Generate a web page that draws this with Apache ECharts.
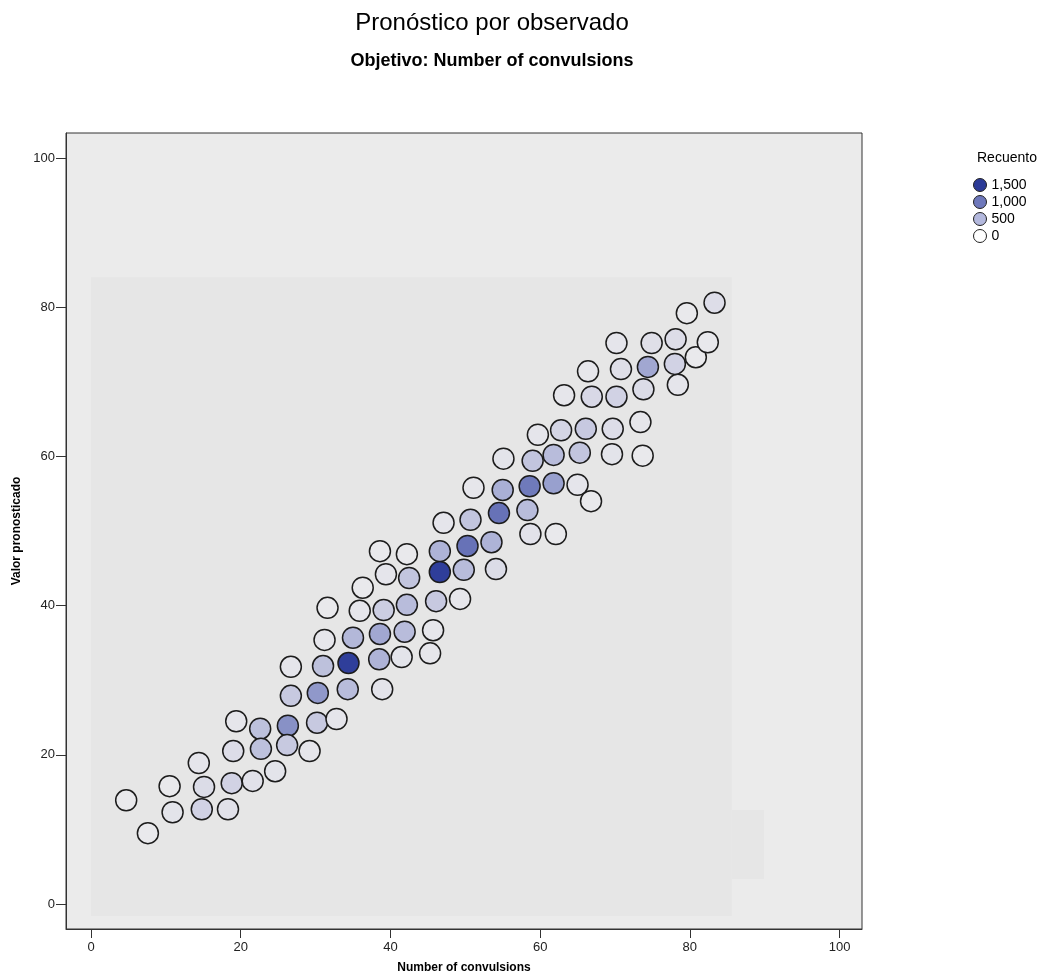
<!DOCTYPE html>
<html>
<head>
<meta charset="utf-8">
<title>Pronóstico por observado</title>
<script src="https://cdn.jsdelivr.net/npm/echarts@6/dist/echarts.min.js"></script>
<style>
  html, body { margin: 0; padding: 0; background: #fff; }
  #chart { width: 1047px; height: 979px; }
</style>
</head>
<body>
<div id="chart"></div>
<script>
// observed value (x), predicted value (y), count of cases in the bin
var observed = [
  4.7, 7.6, 10.5, 10.9, 14.4, 15.1, 14.8, 18.3, 19.0, 18.8,
  19.4, 21.6, 24.6, 22.6, 22.7, 26.3, 26.2, 29.2, 30.2, 32.8,
  26.7, 30.3, 26.7, 31.0, 31.2, 34.4, 34.3, 35.0, 38.5, 38.9,
  41.5, 38.6, 41.9, 45.3, 45.7, 31.6, 35.9, 39.1, 42.2, 46.1,
  49.3, 36.3, 39.4, 42.5, 38.6, 42.2, 46.6, 46.6, 49.8, 54.1,
  50.3, 53.5, 47.1, 50.7, 54.5, 51.1, 55.0, 58.3, 58.7, 62.1,
  58.6, 61.8, 65.0, 66.8, 55.1, 59.0, 61.8, 65.3, 69.6, 73.7,
  59.7, 62.8, 66.1, 69.7, 73.4, 63.2, 66.9, 70.2, 73.8, 78.4,
  66.4, 70.8, 74.4, 78.0, 80.8, 70.2, 74.9, 78.1, 82.4, 79.6,
  83.3
];
var predicted = [
  13.9, 9.5, 15.8, 12.3, 18.9, 15.7, 12.7, 12.7, 20.5, 16.2,
  24.5, 16.5, 17.8, 23.5, 20.8, 23.9, 21.3, 20.5, 24.3, 24.8,
  27.9, 28.3, 31.8, 31.9, 35.4, 32.3, 28.8, 35.7, 32.8, 28.8,
  33.1, 36.2, 36.5, 33.6, 36.7, 39.7, 39.3, 39.4, 40.1, 40.6,
  40.9, 42.4, 44.2, 43.7, 47.3, 46.9, 47.3, 44.5, 44.8, 44.9,
  48.0, 48.5, 51.1, 51.5, 52.4, 55.8, 55.5, 52.8, 49.6, 49.6,
  56.0, 56.4, 56.2, 54.0, 59.7, 59.4, 60.2, 60.5, 60.3, 60.1,
  62.9, 63.5, 63.7, 63.7, 64.6, 68.2, 68.0, 68.0, 69.0, 69.6,
  71.4, 71.7, 72.0, 72.4, 73.3, 75.2, 75.2, 75.7, 75.3, 79.2,
  80.6
];
var counts = [
  0, 0, 0, 80, 60, 200, 350, 120, 180, 350,
  40, 120, 80, 550, 550, 950, 450, 60, 450, 60,
  450, 900, 60, 550, 50, 1500, 600, 650, 700, 90,
  80, 800, 600, 50, 40, 0, 60, 400, 600, 450,
  40, 0, 60, 500, 0, 0, 700, 1500, 600, 200,
  1150, 700, 60, 500, 1150, 40, 750, 600, 100, 0,
  1100, 850, 60, 0, 80, 500, 600, 500, 80, 0,
  60, 300, 450, 180, 50, 50, 250, 350, 200, 60,
  50, 150, 800, 350, 0, 60, 150, 180, 20, 0,
  180
];

var tickValues = [0, 20, 40, 60, 80, 100];
var legendLevels = ['1,500', '1,000', '500', '0'];
var legendColors = ['#2c3b97', '#6e78bb', '#b3b8dd', '#ffffff'];

var points = observed.map(function (x, i) {
  return [x, predicted[i], counts[i]];
});

var font = "'Liberation Sans', Arial, sans-serif";

var legendSeries = legendLevels.map(function (name, i) {
  return {
    name: name,
    type: 'scatter',
    data: [],
    itemStyle: { color: legendColors[i], borderColor: '#222', borderWidth: 1, opacity: 1 }
  };
});

var myChart = echarts.init(document.getElementById('chart'));
myChart.setOption({
  backgroundColor: '#fff',
  animation: false,
  title: [
    {
      text: 'Pronóstico por observado',
      left: 487,
      textAlign: 'center',
      top: 6,
      textStyle: { fontFamily: font, fontSize: 24, fontWeight: 'normal', color: '#000' }
    },
    {
      text: 'Objetivo: Number of convulsions',
      left: 487,
      textAlign: 'center',
      top: 47,
      textStyle: { fontFamily: font, fontSize: 18, fontWeight: 'bold', color: '#000' }
    },
    {
      text: 'Recuento',
      left: 972,
      top: 146,
      textStyle: { fontFamily: font, fontSize: 14, fontWeight: 'normal', color: '#000' }
    }
  ],
  legend: {
    data: legendLevels.map(function (name, i) {
      return {
        name: name,
        icon: 'circle',
        itemStyle: { color: legendColors[i], borderColor: '#222', borderWidth: 1, opacity: 1 }
      };
    }),
    orient: 'vertical',
    left: 973,
    top: 178,
    padding: 0,
    itemWidth: 13,
    itemHeight: 13,
    itemGap: 3,
    textStyle: { fontFamily: font, fontSize: 14, color: '#000' },
    selectedMode: false
  },
  grid: {
    left: 66,
    right: 185,
    top: 133,
    bottom: 50,
    show: true,
    backgroundColor: '#ebebeb',
    borderColor: '#333',
    borderWidth: 1
  },
  xAxis: {
    type: 'value',
    min: -3.34,
    max: 103.0,
    name: 'Number of convulsions',
    nameLocation: 'middle',
    nameGap: 33,
    nameTextStyle: { fontFamily: font, fontSize: 12, fontWeight: 'bold', color: '#000' },
    splitLine: { show: false },
    axisLine: { show: true, onZero: false, lineStyle: { color: '#333', width: 1 } },
    axisTick: { show: true, length: 9, customValues: tickValues, lineStyle: { color: '#333' } },
    axisLabel: { customValues: tickValues, fontFamily: font, fontSize: 13, color: '#222', margin: 12 }
  },
  yAxis: {
    type: 'value',
    min: -3.35,
    max: 103.35,
    name: 'Valor pronosticado',
    nameLocation: 'middle',
    nameGap: 39,
    nameTextStyle: { fontFamily: font, fontSize: 12, fontWeight: 'bold', color: '#000' },
    splitLine: { show: false },
    axisLine: { show: true, onZero: false, lineStyle: { color: '#333', width: 1 } },
    axisTick: { show: true, length: 10, customValues: tickValues, lineStyle: { color: '#333' } },
    axisLabel: { customValues: tickValues, fontFamily: font, fontSize: 13, color: '#222', margin: 11 }
  },
  visualMap: {
    show: false,
    type: 'continuous',
    seriesIndex: 0,
    dimension: 2,
    min: 0,
    max: 1500,
    inRange: { color: ['#e9e9ec', '#cfd0e3', '#a9afd5', '#6b76b9', '#2f3e9a'] }
  },
  series: [
    {
      name: 'Recuento',
      type: 'scatter',
      data: points,
      symbol: 'circle',
      symbolSize: 21,
      itemStyle: { borderColor: '#1c1c1c', borderWidth: 1.5, opacity: 1 },
      markArea: {
        silent: true,
        itemStyle: { color: '#e6e6e6' },
        data: [
          [{ xAxis: 0, yAxis: -1.6 }, { xAxis: 85.6, yAxis: 84.0 }],
          [{ xAxis: 85.6, yAxis: 3.35 }, { xAxis: 89.9, yAxis: 12.6 }]
        ]
      }
    }
  ].concat(legendSeries)
});
</script>
</body>
</html>
